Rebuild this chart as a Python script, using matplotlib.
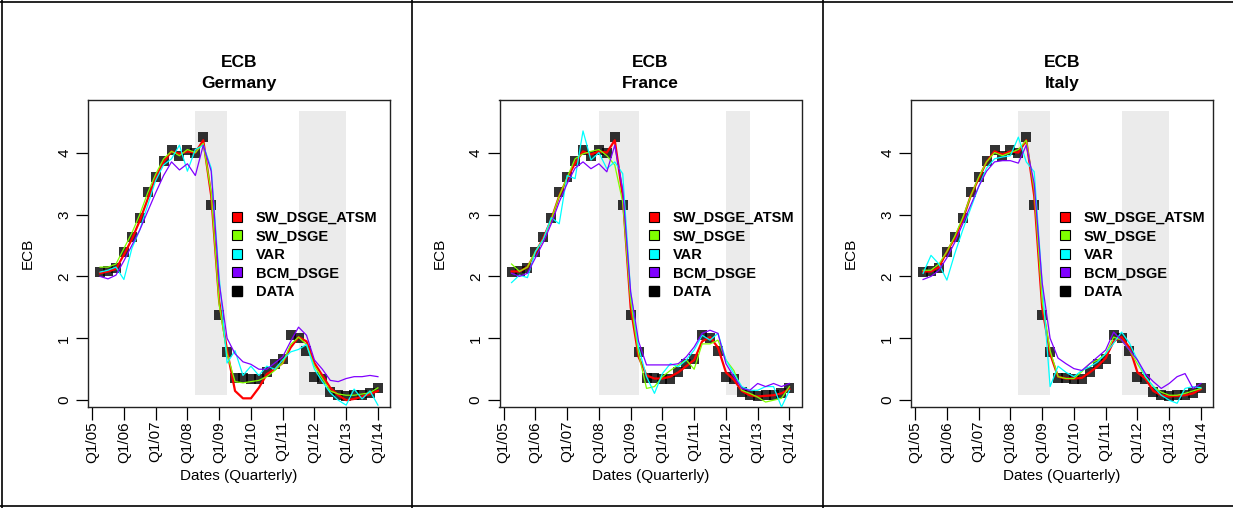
import numpy as np
import matplotlib
matplotlib.use("Agg")
import matplotlib.pyplot as plt
from matplotlib.lines import Line2D
from matplotlib.patches import Rectangle

plt.rcParams['font.family'] = ['Liberation Sans', 'DejaVu Sans']

# ---------------------------------- data ----------------------------------
# quarterly observations, 2005Q2 .. 2014Q1
dates = 2005.25 + 0.25 * np.arange(36)
tick_years = [2005, 2006, 2007, 2008, 2009, 2010, 2011, 2012, 2013, 2014]
tick_labels = ["Q1/05", "Q1/06", "Q1/07", "Q1/08", "Q1/09",
               "Q1/10", "Q1/11", "Q1/12", "Q1/13", "Q1/14"]

ecb_data = [2.07, 2.09, 2.13, 2.40, 2.63, 2.94, 3.36, 3.60, 3.86, 4.05, 3.95, 4.05,
            4.00, 4.25, 3.16, 1.38, 0.78, 0.36, 0.36, 0.34, 0.35, 0.45, 0.59, 0.67,
            1.05, 1.01, 0.79, 0.37, 0.34, 0.13, 0.08, 0.07, 0.08, 0.08, 0.12, 0.19]

de_atsm = [2.05, 2.08, 2.12, 2.35, 2.60, 2.90, 3.25, 3.60, 3.85, 4.02, 3.98, 4.02,
           4.00, 4.20, 3.30, 1.60, 0.80, 0.15, 0.03, 0.03, 0.20, 0.42, 0.50, 0.60,
           0.85, 1.02, 0.95, 0.60, 0.40, 0.20, 0.08, 0.00, 0.02, 0.06, 0.10, 0.15]
de_dsge = [2.15, 2.15, 2.20, 2.45, 2.70, 3.00, 3.35, 3.65, 3.90, 4.02, 3.95, 4.05,
           4.00, 4.15, 3.35, 1.55, 0.75, 0.30, 0.28, 0.30, 0.32, 0.38, 0.48, 0.60,
           0.90, 1.02, 0.90, 0.55, 0.35, 0.15, 0.10, 0.08, 0.08, 0.10, 0.12, 0.20]
de_var = [2.07, 2.10, 2.15, 1.95, 2.45, 2.75, 3.15, 3.55, 3.80, 3.90, 4.12, 3.70,
          4.05, 4.12, 3.75, 2.00, 0.60, 0.80, 0.40, 0.55, 0.40, 0.55, 0.50, 0.65,
          0.78, 0.82, 0.90, 0.50, 0.30, 0.12, 0.00, -0.08, 0.18, 0.02, 0.15, -0.08]
de_bcm = [2.00, 1.96, 2.02, 2.25, 2.50, 2.75, 3.05, 3.35, 3.63, 3.85, 3.72, 3.82,
          3.63, 4.12, 3.70, 1.90, 1.00, 0.75, 0.62, 0.58, 0.50, 0.50, 0.60, 0.70,
          0.95, 1.18, 1.05, 0.65, 0.50, 0.32, 0.30, 0.35, 0.38, 0.38, 0.40, 0.38]

fr_atsm = [2.08, 2.08, 2.15, 2.38, 2.62, 2.92, 3.30, 3.58, 3.83, 4.02, 3.97, 4.02,
           4.00, 4.20, 3.30, 1.50, 0.70, 0.40, 0.35, 0.35, 0.38, 0.45, 0.55, 0.65,
           0.95, 1.02, 0.85, 0.45, 0.33, 0.15, 0.08, 0.06, 0.07, 0.08, 0.11, 0.18]
fr_dsge = [2.20, 2.08, 2.15, 2.40, 2.60, 2.92, 3.30, 3.60, 3.90, 3.98, 4.02, 4.05,
           3.95, 3.80, 3.20, 1.60, 0.75, 0.19, 0.22, 0.38, 0.48, 0.57, 0.65, 0.50,
           0.91, 0.91, 0.97, 0.65, 0.48, 0.16, 0.11, 0.05, -0.03, 0.00, 0.03, 0.22]
fr_var = [1.90, 2.02, 1.98, 2.40, 2.60, 2.95, 2.85, 3.63, 3.58, 4.35, 3.88, 4.00,
          3.74, 3.85, 3.66, 1.75, 0.85, 0.38, 0.11, 0.43, 0.59, 0.54, 0.65, 0.81,
          1.05, 0.97, 1.08, 0.65, 0.43, 0.22, 0.16, 0.16, 0.22, 0.22, -0.11, 0.16]
fr_bcm = [2.05, 2.00, 2.05, 2.30, 2.55, 2.85, 3.20, 3.50, 3.75, 3.85, 3.74, 3.82,
          3.69, 4.12, 3.40, 1.75, 0.95, 0.57, 0.57, 0.57, 0.57, 0.59, 0.70, 0.86,
          1.08, 1.13, 1.08, 0.59, 0.38, 0.19, 0.16, 0.27, 0.22, 0.27, 0.22, 0.27]

it_atsm = [2.08, 2.08, 2.15, 2.40, 2.62, 2.92, 3.30, 3.58, 3.85, 4.02, 3.97, 4.02,
           4.00, 4.20, 3.30, 1.50, 0.75, 0.38, 0.35, 0.35, 0.36, 0.45, 0.55, 0.68,
           0.95, 1.02, 0.85, 0.45, 0.35, 0.15, 0.08, 0.06, 0.07, 0.08, 0.11, 0.18]
it_dsge = [2.10, 2.10, 2.20, 2.40, 2.65, 2.95, 3.30, 3.60, 3.85, 4.00, 3.95, 4.00,
           4.05, 4.20, 3.40, 1.60, 0.80, 0.38, 0.35, 0.35, 0.46, 0.59, 0.65, 0.75,
           1.02, 0.97, 0.81, 0.59, 0.38, 0.22, 0.13, 0.08, 0.08, 0.11, 0.15, 0.19]
it_var = [2.05, 2.34, 2.20, 1.94, 2.37, 2.75, 3.10, 3.45, 3.75, 3.90, 3.93, 3.95,
          4.25, 3.85, 3.69, 1.90, 0.22, 0.55, 0.45, 0.38, 0.48, 0.54, 0.62, 0.75,
          0.92, 1.10, 0.92, 0.65, 0.38, 0.22, 0.08, 0.00, -0.05, 0.19, 0.22, 0.20]
it_bcm = [1.95, 2.00, 2.10, 2.30, 2.55, 2.85, 3.15, 3.45, 3.70, 3.85, 3.87, 3.87,
          3.83, 4.12, 3.50, 1.90, 1.00, 0.68, 0.59, 0.51, 0.48, 0.59, 0.70, 0.81,
          1.10, 0.97, 0.81, 0.65, 0.43, 0.30, 0.19, 0.27, 0.38, 0.43, 0.19, 0.27]

countries = ["Germany", "France", "Italy"]
forecasts = {
    "Germany": [de_atsm, de_dsge, de_var, de_bcm],
    "France": [fr_atsm, fr_dsge, fr_var, fr_bcm],
    "Italy": [it_atsm, it_dsge, it_var, it_bcm],
}
# shaded periods (start, end) in years
shades = {
    "Germany": [(2008.25, 2009.25), (2011.5, 2013.0)],
    "France": [(2008.0, 2009.25), (2012.0, 2012.75)],
    "Italy": [(2008.25, 2009.25), (2011.5, 2013.0)],
}
model_names = ["SW_DSGE_ATSM", "SW_DSGE", "VAR", "BCM_DSGE"]
model_colors = ["#FF0000", "#80FF00", "#00FFFF", "#8000FF"]
model_widths = [1.6, 0.9, 0.9, 0.9]
legend_x = {"Germany": 0.468, "France": 0.486, "Italy": 0.486}

# ---------------------------------- plot ----------------------------------
W, H = 1233, 508
fig = plt.figure(figsize=(W / 100, H / 100), dpi=100)

for k, country in enumerate(countries):
    left = 88 + k * 411.5
    ax = fig.add_axes([left / W, 101 / H, 302 / W, 307 / H])

    for x0, x1 in shades[country]:
        ax.add_patch(Rectangle((x0, 0.08), x1 - x0, 4.6, facecolor="#EBEBEB",
                               edgecolor="none", zorder=0))

    ax.plot(dates, ecb_data, linestyle="none", marker="s", markersize=7.2,
            color="black", alpha=0.8, markeredgewidth=0, zorder=2)
    for vals, col, lw in zip(forecasts[country], model_colors, model_widths):
        ax.plot(dates, vals, color=col, linewidth=lw, zorder=3)

    ax.set_xlim(2004.87, 2014.38)
    ax.set_ylim(-0.11, 4.85)
    ax.set_xticks(tick_years)
    ax.set_xticklabels(tick_labels, rotation=90, fontsize=11)
    ax.set_yticks([0, 1, 2, 3, 4])
    ax.set_yticklabels(["0", "1", "2", "3", "4"], rotation=90, va="center", fontsize=11)
    ax.tick_params(axis="x", length=9, width=0.9, pad=1)
    ax.tick_params(axis="y", length=9, width=0.9, pad=3)
    for sp in ax.spines.values():
        sp.set_linewidth(1.0)
        sp.set_color("#222222")

    ax.set_xlabel("Dates (Quarterly)", fontsize=11, labelpad=5)
    ax.set_ylabel("ECB", fontsize=11, labelpad=16)
    ax.text(0.5, 1.1075, "ECB", transform=ax.transAxes, ha="center", va="baseline",
            fontsize=12.5, fontweight="bold")
    ax.text(0.5, 1.039, country, transform=ax.transAxes, ha="center", va="baseline",
            fontsize=12.5, fontweight="bold")

    handles = [Line2D([], [], linestyle="none", marker="s", markersize=7,
                      markerfacecolor=c, markeredgecolor="black", markeredgewidth=0.8)
               for c in model_colors]
    handles.append(Line2D([], [], linestyle="none", marker="s", markersize=7,
                          markerfacecolor="black", markeredgecolor="black"))
    ax.legend(handles, model_names + ["DATA"], loc="upper left",
              bbox_to_anchor=(legend_x[country], 0.638), frameon=False,
              borderpad=0, borderaxespad=0, handlelength=1.0, handletextpad=0.8,
              labelspacing=0.3, prop={"weight": "bold", "size": 10.5})

# panel frames
def fig_line(x0, y0, x1, y1):
    fig.add_artist(Line2D([x0 / W, x1 / W], [1 - y0 / H, 1 - y1 / H],
                          transform=fig.transFigure, color="black", linewidth=1.2))

fig_line(0, 1.5, W, 1.5)
fig_line(0, 506, W, 506)
fig_line(1.5, 0, 1.5, H)
fig_line(412, 0, 412, H)
fig_line(823, 0, 823, H)

fig.savefig("out.png", dpi=100)
